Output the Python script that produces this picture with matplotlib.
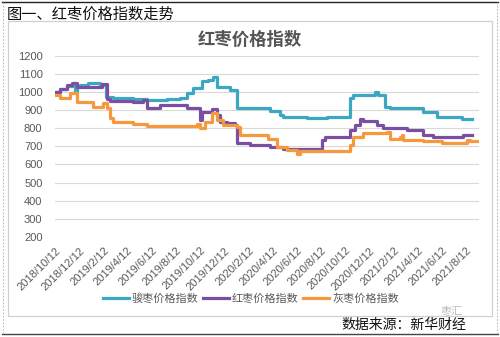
import matplotlib
matplotlib.use("Agg")
import matplotlib.pyplot as plt
from matplotlib.lines import Line2D
from matplotlib.patches import Rectangle
import matplotlib.transforms as mtransforms
import numpy as np

plt.rcParams['font.family'] = ['Liberation Sans', 'Noto Sans CJK SC', 'DejaVu Sans']
CJK = ['Noto Sans CJK SC', 'DejaVu Sans']

# 骏枣价格指数
jun_dates = ['2018-10-12', '2018-10-25', '2018-11-11', '2018-12-01', '2018-12-06', '2018-12-14',
             '2019-01-03', '2019-02-02', '2019-02-17', '2019-03-07', '2019-04-26', '2019-06-01',
             '2019-07-21', '2019-08-23', '2019-09-09', '2019-09-25', '2019-10-17', '2019-11-01',
             '2019-11-14', '2019-11-24', '2019-12-27', '2020-01-13', '2020-04-06', '2020-05-01',
             '2020-05-08', '2020-07-08', '2020-08-27', '2020-10-24', '2020-11-01', '2020-12-26',
             '2021-01-03', '2021-01-20', '2021-02-02', '2021-04-26', '2021-05-31', '2021-08-02',
             '2021-08-27']
jun_vals = [1000, 1015, 1030, 1000, 1030, 1038,
            1047, 1040, 973, 965, 960, 955,
            960, 965, 992, 1019, 1058, 1065,
            1080, 1028, 1010, 912, 897, 872,
            863, 857, 862, 964, 982, 1001,
            981, 918, 909, 890, 859, 848,
            848]

# 红枣价格指数
hong_dates = ['2018-10-12', '2018-10-25', '2018-11-11', '2018-11-24', '2018-12-06', '2019-02-07',
              '2019-02-20', '2019-02-28', '2019-04-26', '2019-05-22', '2019-06-01', '2019-06-08',
              '2019-07-03', '2019-09-09', '2019-10-12', '2019-10-17', '2019-11-11', '2019-11-24',
              '2019-12-02', '2019-12-19', '2020-01-08', '2020-01-13', '2020-02-15', '2020-04-06',
              '2020-05-08', '2020-08-15', '2020-08-22', '2020-10-24', '2020-11-06', '2020-11-18',
              '2020-11-26', '2020-12-31', '2021-01-15', '2021-03-17', '2021-04-26', '2021-05-21',
              '2021-08-05', '2021-08-27']
hong_vals = [1000, 1015, 1038, 1047, 1028, 1043,
             959, 950, 945, 955, 909, 912,
             927, 910, 845, 890, 905, 872,
             835, 826, 820, 716, 706, 694,
             683, 734, 749, 789, 817, 848,
             839, 817, 799, 789, 762, 753,
             762, 762]

# 灰枣价格指数
hui_dates = ['2018-10-12', '2018-10-25', '2018-11-19', '2018-12-06', '2019-01-16', '2019-02-10',
             '2019-02-20', '2019-02-28', '2019-03-07', '2019-04-26', '2019-06-01', '2019-10-05',
             '2019-10-12', '2019-10-25', '2019-11-11', '2019-11-24', '2019-12-09', '2020-01-13',
             '2020-01-21', '2020-04-01', '2020-04-23', '2020-05-18', '2020-06-13', '2020-06-20',
             '2020-10-24', '2020-11-01', '2020-11-26', '2021-01-25', '2021-02-02', '2021-02-27',
             '2021-03-04', '2021-03-07', '2021-04-26', '2021-06-13', '2021-08-15', '2021-08-22',
             '2021-09-09']
hui_vals = [983, 965, 992, 946, 918, 937,
            909, 854, 835, 822, 811, 822,
            799, 835, 881, 845, 817, 808,
            762, 740, 697, 679, 660, 676,
            706, 749, 771, 777, 740, 749,
            762, 734, 729, 716, 734, 729,
            729]

tick_labels = ['2018/10/12', '2018/12/12', '2019/2/12', '2019/4/12', '2019/6/12', '2019/8/12',
               '2019/10/12', '2019/12/12', '2020/2/12', '2020/4/12', '2020/6/12', '2020/8/12',
               '2020/10/12', '2020/12/12', '2021/2/12', '2021/4/12', '2021/6/12', '2021/8/12']

series = [('骏枣价格指数', jun_dates, jun_vals, '#3ba7c0'),
          ('红枣价格指数', hong_dates, hong_vals, '#7a4fa3'),
          ('灰枣价格指数', hui_dates, hui_vals, '#f6983d')]

fig = plt.figure(figsize=(5.0, 3.37), dpi=100)
W, H = 500, 337

def fx(px):
    return px / W

def fy(py):
    return 1 - py / H

# outer frame
fig.add_artist(Line2D([fx(2), fx(498)], [fy(2), fy(2)], color='#222222', lw=1.0))
fig.add_artist(Line2D([fx(2), fx(498)], [fy(334), fy(334)], color='#444444', lw=1.0))
fig.add_artist(Line2D([fx(3), fx(3)], [fy(2), fy(334)], color='#aaaaaa', lw=0.6, ls=(0, (2, 2))))
fig.add_artist(Line2D([fx(497), fx(497)], [fy(2), fy(334)], color='#aaaaaa', lw=0.6, ls=(0, (2, 2))))

# chart box
fig.add_artist(Rectangle((fx(8), fy(316)), fx(492) - fx(8), fy(21) - fy(316),
                         transform=fig.transFigure, fill=False, edgecolor='#d0d0d0', lw=0.9))

fig.text(fx(7), fy(14), '图一、红枣价格指数走势', family=CJK, fontsize=11,
         color='#111111', ha='left', va='center')
fig.text(fx(250), fy(40), '红枣价格指数', family=CJK, fontsize=12.5,
         color='#555555', ha='center', va='center', fontweight='bold')

ax = fig.add_axes([fx(55), fy(237), fx(479) - fx(55), fy(55.6) - fy(237)])
for name, d, v, c in series:
    ax.plot(np.array(d, dtype='datetime64[D]'), v, color=c, lw=2.3,
            drawstyle='steps-post', label=name)

ax.set_ylim(200, 1200)
ax.set_yticks(range(200, 1201, 100))
ax.set_xlim(np.datetime64('2018-10-12'), np.datetime64('2021-09-14'))
tick_pos = [np.datetime64('%s-%02d-%02d' % tuple(int(p) for p in t.split('/')), 'D')
            for t in tick_labels]
ax.set_xticks(tick_pos)
ax.set_xticklabels(tick_labels, rotation=45, ha='right', rotation_mode='anchor')
offset = mtransforms.ScaledTranslation(6 / 100, -4 / 100, fig.dpi_scale_trans)
for lab in ax.get_xticklabels():
    lab.set_transform(lab.get_transform() + offset)

ax.grid(axis='y', color='#d9d9d9', lw=0.8)
ax.set_axisbelow(True)
for s in ax.spines.values():
    s.set_visible(False)
ax.tick_params(axis='both', length=0, labelsize=8, colors='#595959', pad=6)
ax.tick_params(axis='y', pad=9)

leg = fig.legend(loc='center', bbox_to_anchor=(fx(251), fy(298)), ncol=3, frameon=False,
                 prop={'family': CJK, 'size': 8}, handlelength=2.3, handletextpad=0.3,
                 columnspacing=0.4)
for t in leg.get_texts():
    t.set_color('#595959')

fig.text(fx(463), fy(311), '枣汇', family=CJK, fontsize=8, color='#bbbbbb', ha='right', va='center')
fig.text(fx(466), fy(325), '数据来源：新华财经', family=CJK, fontsize=10,
         color='#111111', ha='right', va='center')

fig.savefig('out.png', dpi=100)
